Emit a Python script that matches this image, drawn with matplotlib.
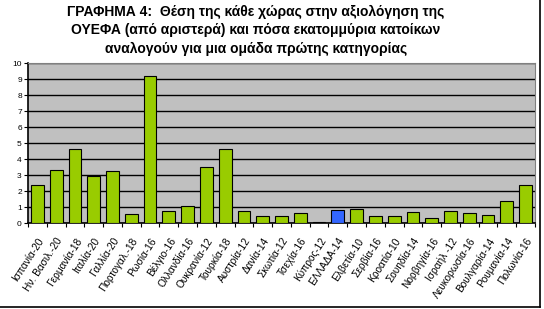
import matplotlib.pyplot as plt
from matplotlib.lines import Line2D

plt.rcParams['font.family'] = ['Liberation Sans', 'DejaVu Sans']

# χώρες με τη σειρά της ΟΥΕΦΑ και εκατομμύρια κατοίκων ανά ομάδα
xwres = ['Ισπανία-20', 'Ην. Βασιλ.-20', 'Γερμανία-18', 'Ιταλία-20', 'Γαλλία-20',
         'Πορτογαλ.-18', 'Ρωσία-16', 'Βέλγιο-16', 'Ολλανδία-16', 'Ουκρανία-12',
         'Τουρκία-18', 'Αυστρία-12', 'Δανία-14', 'Σκωτία-12', 'Τσεχία-16',
         'Κύπρος-12', 'ΕΛΛΑΔΑ-14', 'Ελβετία-10', 'Σερβία-16', 'Κροατία-10',
         'Σουηδία-14', 'Νορβηγία-16', 'Ισραήλ -12', 'Λευκορωσία-16',
         'Βουλγαρία-14', 'Ρουμανία-14', 'Πολωνία-16']
katoikoi = [2.4, 3.32, 4.63, 2.98, 3.26, 0.59, 9.19, 0.75, 1.07, 3.5,
            4.63, 0.77, 0.44, 0.44, 0.63, 0.08, 0.82, 0.88, 0.46, 0.46,
            0.73, 0.32, 0.8, 0.63, 0.5, 1.38, 2.38]

xrwmata = ['#3366FF' if x.startswith('ΕΛΛΑΔΑ') else '#99CC00' for x in xwres]

fig = plt.figure(figsize=(5.44, 3.09), dpi=100)
ax = fig.add_axes([28 / 544, 1 - 223.4 / 309, (535 - 28) / 544, (223.4 - 63.3) / 309])

ax.set_facecolor('#C0C0C0')
ax.set_axisbelow(True)
ax.yaxis.grid(True, color='black', linewidth=1)
ax.bar(range(len(xwres)), katoikoi, width=0.68, color=xrwmata,
       edgecolor='black', linewidth=0.8, zorder=3)

ax.set_xlim(-0.5, len(xwres) - 0.5)
ax.set_ylim(0, 10)
ax.set_yticks(range(0, 11))
ax.tick_params(axis='y', labelsize=6, length=3, width=0.8, pad=1.5)

ax.set_xticks([i - 0.5 for i in range(len(xwres) + 1)], minor=False)
ax.set_xticklabels([])
ax.set_xticks(range(len(xwres)), minor=True)
ax.set_xticklabels(xwres, minor=True, rotation=57, ha='right',
                   rotation_mode='anchor', fontsize=7.3)
ax.tick_params(axis='x', which='major', length=3, width=0.8)
ax.tick_params(axis='x', which='minor', length=0, pad=9)

for s in ['top', 'right']:
    ax.spines[s].set_color('#808080')
    ax.spines[s].set_linewidth(0.8)
for s in ['left', 'bottom']:
    ax.spines[s].set_color('black')
    ax.spines[s].set_linewidth(1.2)

fig.text(256 / 544, 1 - 30 / 309,
         'ΓΡΑΦΗΜΑ 4:  Θέση της κάθε χώρας στην αξιολόγηση της\n'
         'ΟΥΕΦΑ (από αριστερά) και πόσα εκατομμύρια κατοίκων\n'
         'αναλογούν για μια ομάδα πρώτης κατηγορίας',
         ha='center', va='center', fontsize=10, fontweight='bold',
         linespacing=1.4)

# πλαίσιο του γραφήματος
fig.add_artist(Line2D([0, 540 / 544], [1 - 307 / 309] * 2, color='black', linewidth=1.2))
fig.add_artist(Line2D([540 / 544] * 2, [1 - 307 / 309, 1], color='black', linewidth=1.2))

fig.savefig('out.png', dpi=100)
